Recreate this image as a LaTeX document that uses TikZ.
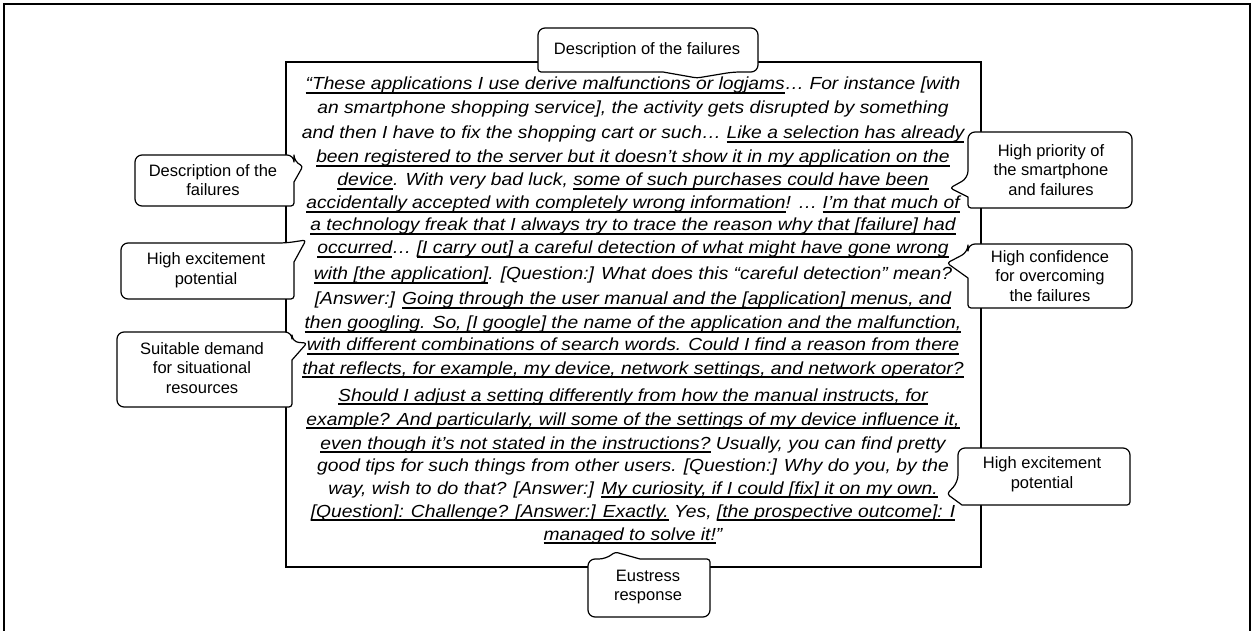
\documentclass[tikz,border=0pt]{standalone}
\usepackage{fontspec}
\setmainfont{Liberation Sans}
\newfontfamily\qfont[FakeStretch=1.1]{Liberation Sans}
\newsavebox{\ulbox}
\newcommand{\myul}[1]{\sbox{\ulbox}{#1}\rlap{\rule[-3.6pt]{\wd\ulbox}{1.25pt}}\usebox{\ulbox}}
\begin{document}
\begin{tikzpicture}[x=1pt,y=-1pt,
  frame/.style={line width=1.8pt},
  mainbox/.style={draw,line width=1.4pt,minimum width=695pt,minimum height=505pt,inner sep=0pt},
  co/.style={draw,fill=white,line width=1.2pt,line join=round},
  r/.style={rounded corners=7pt},
  b/.style={rounded corners=3pt},
  s/.style={sharp corners},
  ql/.style={anchor=base,inner sep=0pt,font=\qfont\fontsize{17.5}{19}\selectfont\itshape},
  ct/.style={align=center,inner sep=0pt,font=\fontsize{16.5}{19.5}\selectfont}]
\useasboundingbox (0,0) rectangle (1254,631);
\draw[frame] (4,631) -- (4,4) -- (1250,4) -- (1250,631);
\node[mainbox] (box) at (633.5,314.5) {};
% callouts
\draw[co] (648,28) [r] -- (758,28) -- (758,72) -- (733,72) [b] -- (697,78) [s] -- (663,72) [b] -- (538,72) [r] -- (538,28) -- cycle;
\draw[co] (135,180) [r] -- (135,155) -- (294,155) -- (294,162) [b] -- (303,166) [s] -- (294,182) [b] -- (294,206) [r] -- (135,206) -- cycle;
\draw[co] (121,270) [r] -- (121,243) -- (286,243) [b] -- (306,240) [s] -- (294,262) [b] -- (294,299) [r] -- (121,299) -- cycle;
\draw[co] (117,370) [r] -- (117,332) -- (292,332) -- (292,342) [b] -- (307,343) [s] -- (292,360) [b] -- (292,407) [r] -- (117,407) -- cycle;
\draw[co] (1050,132) [r] -- (968,132) -- (968,178) [b] -- (950,188) [s] -- (968,197) [b] -- (968,208) [r] -- (1132,208) -- (1132,132) -- cycle;
\draw[co] (1050,244) [r] -- (968,244) -- (968,252) [b] -- (947,263) [s] -- (968,278) [b] -- (968,308) [r] -- (1132,308) -- (1132,244) -- cycle;
\draw[co] (1044,448) [r] -- (958,448) -- (958,482) [b] -- (947,494) [s] -- (962,505) [b] -- (1130,505) [r] -- (1130,448) -- cycle;
\draw[co] (588,588) [r] -- (588,559) -- (606,559) [b] -- (615,552) [s] -- (640,559) [b] -- (710,559) [r] -- (710,617) -- (588,617) -- cycle;
% callout texts
\node[ct] (cT) at (647,50) {Description of the failures};
\node[ct] (cL1) at (213,180) {Description of the\\failures};
\node[ct] (cL2) at (206,270) {High excitement\\potential};
\node[ct] (cL3) at (202,368) {Suitable demand\\for situational\\resources};
\node[ct] (cR1) at (1051,170) {High priority of\\the smartphone\\and failures};
\node[ct] (cR2) at (1050,276) {High confidence\\for overcoming\\the failures};
\node[ct] (cR3) at (1042,474) {High excitement\\potential};
\node[ct] (cB) at (648,587) {Eustress\\response};
% quote lines
\node[ql] (l1) at (633,90) {\myul{“These applications I use derive malfunctions or logjams}… For instance [with};
\node[ql] (l2) at (633,114) {an smartphone shopping service], the activity gets disrupted by something};
\node[ql] (l3) at (633,139) {and then I have to fix the shopping cart or such… \myul{Like a selection has already}};
\node[ql] (l4) at (633,163) {\myul{been registered to the server but it doesn’t show it in my application on the}};
\node[ql] (l5) at (633,186) {\myul{device}. With very bad luck, \myul{some of such purchases could have been}};
\node[ql] (l6) at (633,209) {\myul{accidentally accepted with completely wrong information}! … \myul{I’m that much of}};
\node[ql] (l7) at (633,231) {\myul{a technology freak that I always try to trace the reason why that [failure] had}};
\node[ql] (l8) at (633,254) {\myul{occurred}… \myul{[I carry out] a careful detection of what might have gone wrong}};
\node[ql] (l9) at (633,280) {\myul{with [the application]}. [Question:] What does this “careful detection” mean?};
\node[ql] (l10) at (633,305) {[Answer:] \myul{Going through the user manual and the [application] menus, and}};
\node[ql] (l11) at (633,329) {\myul{then googling. So, [I google] the name of the application and the malfunction,}};
\node[ql] (l12) at (633,351) {\myul{with different combinations of search words. Could I find a reason from there}};
\node[ql] (l13) at (633,374) {\myul{that reflects, for example, my device, network settings, and network operator?}};
\node[ql] (l14) at (633,401) {\myul{Should I adjust a setting differently from how the manual instructs, for}};
\node[ql] (l15) at (633,425) {\myul{example? And particularly, will some of the settings of my device influence it,}};
\node[ql] (l16) at (633,449) {\myul{even though it’s not stated in the instructions?} Usually, you can find pretty};
\node[ql] (l17) at (633,471) {good tips for such things from other users. [Question:] Why do you, by the};
\node[ql] (l18) at (633,494) {way, wish to do that? [Answer:] \myul{My curiosity, if I could [fix] it on my own.}};
\node[ql] (l19) at (633,517) {\myul{[Question]: Challenge? [Answer:] Exactly.} Yes, \myul{[the prospective outcome]: I}};
\node[ql] (l20) at (633,540) {\myul{managed to solve it!}”};
\end{tikzpicture}
\end{document}
